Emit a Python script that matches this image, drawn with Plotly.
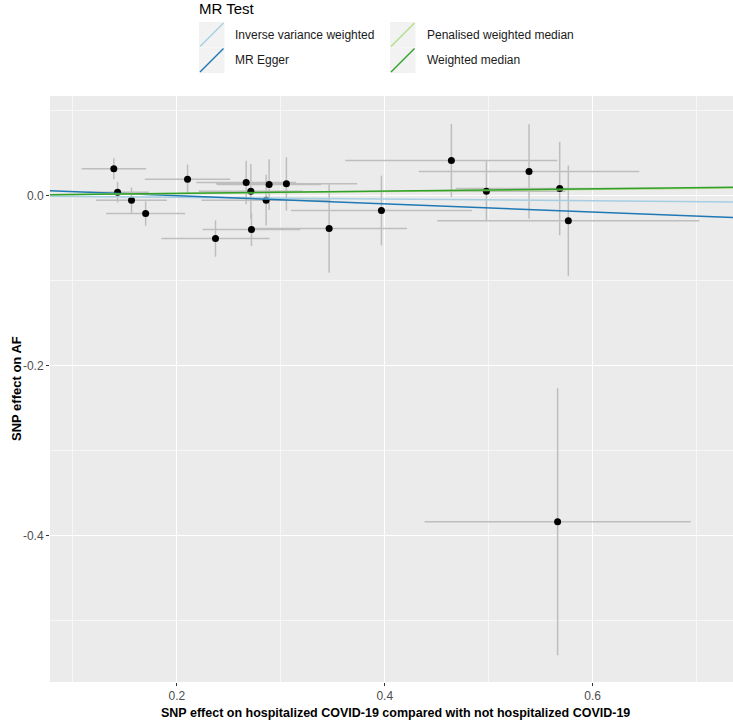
import plotly.graph_objects as go

# ---- data ----
snp_x = [0.1394, 0.1430, 0.1564, 0.1700, 0.2103, 0.2372, 0.2667, 0.2712, 0.2859, 0.2888,
         0.2718, 0.3054, 0.3465, 0.3968, 0.4641, 0.4978, 0.5388, 0.5683, 0.5766, 0.5663]
snp_x_se = [0.031, 0.030, 0.034, 0.038, 0.041, 0.052, 0.048, 0.050, 0.062, 0.050,
            0.047, 0.068, 0.075, 0.087, 0.102, 0.076, 0.106, 0.100, 0.126, 0.128]
snp_y = [0.0314, 0.0039, -0.0055, -0.0212, 0.0192, -0.0506, 0.0153, 0.0051, -0.0055, 0.0129,
         -0.0400, 0.0137, -0.0388, -0.0176, 0.0412, 0.0051, 0.0282, 0.0082, -0.0298, -0.3835]
snp_y_se = [0.0124, 0.0122, 0.0150, 0.0143, 0.0173, 0.0214, 0.0255, 0.0320, 0.0298, 0.0298,
            0.0193, 0.0314, 0.0520, 0.0410, 0.0430, 0.0353, 0.0555, 0.0550, 0.0650, 0.1570]

methods = ["Inverse variance weighted", "MR Egger", "Penalised weighted median", "Weighted median"]
intercepts = [0.0, 0.0092, 0.0, 0.0]
slopes = [-0.0103, -0.0475, 0.0120, 0.0132]
colors = ["#a6cee3", "#1f78b4", "#b2df8a", "#33a02c"]

x_ticks = [0.2, 0.4, 0.6]
y_ticks = [0.0, -0.2, -0.4]
x_range = [0.078, 0.735]
y_range = [-0.572, 0.117]

# ---- geometry (page body margin removed, so figure pixels == screen pixels) ----
W, H = 733, 722
L, R, T, B = 50, 0, 96, 40
pw, ph = W - L - R, H - T - B


def px(sx):
    return (sx - L) / pw


def py(sy):
    return (H - B - sy) / ph


fig = go.Figure()

# error bars + points
fig.add_trace(go.Scatter(
    x=snp_x, y=snp_y, mode="markers",
    marker=dict(color="black", size=7),
    error_x=dict(type="data", array=snp_x_se, color="#BEBEBE", thickness=1.5, width=0),
    error_y=dict(type="data", array=snp_y_se, color="#BEBEBE", thickness=1.5, width=0),
    showlegend=False, hoverinfo="x+y",
))

# MR fitted lines
for name, a, b, c in zip(methods, intercepts, slopes, colors):
    xs = x_range
    ys = [a + b * v for v in xs]
    fig.add_trace(go.Scatter(x=xs, y=ys, mode="lines", name=name,
                             line=dict(color=c, width=1.5), showlegend=False))

# ---- manual legend (ggplot style, diagonal keys) ----
shapes = []
annotations = []
annotations.append(dict(text="MR Test", xref="paper", yref="paper", x=px(198), y=py(9),
                        xanchor="left", yanchor="middle", showarrow=False, borderpad=0,
                        font=dict(family="Liberation Sans, Arial", size=15, color="black")))
key_x0 = [199, 390]
text_x0 = [233, 425]
row_top = [22, 47.5]
row_h = 25.5
for i, (name, c) in enumerate(zip(methods, colors)):
    col, row = i // 2, i % 2
    x0 = key_x0[col]
    x1 = x0 + 25.5
    y0 = row_top[row]
    y1 = y0 + row_h
    shapes.append(dict(type="rect", xref="paper", yref="paper",
                       x0=px(x0), x1=px(x1), y0=py(y1), y1=py(y0),
                       fillcolor="#F2F2F2", line=dict(width=0), layer="above"))
    shapes.append(dict(type="line", xref="paper", yref="paper",
                       x0=px(x0 + 1), x1=px(x1 - 1), y0=py(y1 - 1), y1=py(y0 + 1),
                       line=dict(color=c, width=1.5), layer="above"))
    annotations.append(dict(text=name, xref="paper", yref="paper",
                            x=px(text_x0[col]), y=py((y0 + y1) / 2),
                            xanchor="left", yanchor="middle", showarrow=False,
                            font=dict(family="Liberation Sans, Arial", size=12, color="#1A1A1A")))

# axis titles
annotations.append(dict(text="<b>SNP effect on hospitalized COVID-19 compared with not hospitalized COVID-19</b>",
                        xref="paper", yref="paper", x=px(395), y=py(712.5),
                        xanchor="center", yanchor="middle", showarrow=False, borderpad=0,
                        font=dict(family="Liberation Sans, Arial", size=12.5, color="black")))
annotations.append(dict(text="<b>SNP effect on AF</b>", xref="paper", yref="paper",
                        x=px(16), y=py(389), xanchor="center", yanchor="middle",
                        textangle=-90, showarrow=False,
                        font=dict(family="Liberation Sans, Arial", size=13, color="black")))

axis_common = dict(
    showgrid=True, gridcolor="white", gridwidth=1.4,
    zeroline=False, showline=False,
    ticks="outside", ticklen=3, tickcolor="#333333", tickwidth=1,
    tickfont=dict(family="Liberation Sans, Arial", size=12, color="#4D4D4D"),
)

fig.update_layout(
    width=W, height=H,
    margin=dict(l=L, r=R, t=T, b=B, pad=0),
    paper_bgcolor="white", plot_bgcolor="#EBEBEB",
    xaxis=dict(range=x_range, tickvals=x_ticks, ticktext=[f"{v:.1f}" for v in x_ticks],
               minor=dict(dtick=0.1, tick0=0.1, showgrid=True, gridcolor="#F7F7F7", gridwidth=0.8, ticks=""),
               **axis_common),
    yaxis=dict(range=y_range, tickvals=y_ticks, ticktext=[f"{v:.1f}" for v in y_ticks],
               minor=dict(dtick=0.1, tick0=0.1, showgrid=True, gridcolor="#F7F7F7", gridwidth=0.8, ticks=""),
               **axis_common),
    shapes=shapes, annotations=annotations,
    showlegend=False,
)

fig.write_html("out.html",
               config={"displayModeBar": False},
               post_script="document.body.style.margin='0px';"
                           "document.documentElement.style.overflow='hidden';")
